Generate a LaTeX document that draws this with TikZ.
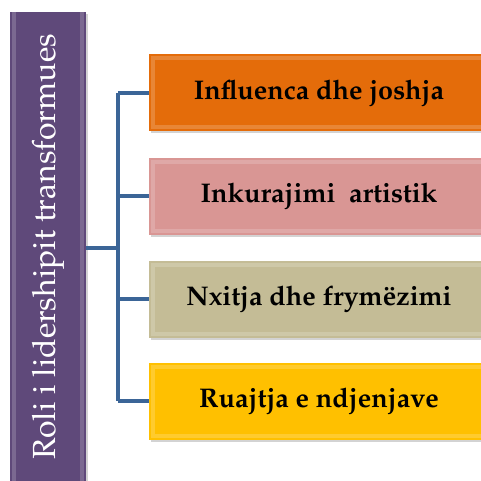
\documentclass[tikz,border=0pt]{standalone}
\usepackage[T1]{fontenc}
\usepackage{mathpazo}
\usetikzlibrary{shadows}
\definecolor{rolepurple}{HTML}{5F497A}
\definecolor{linkblue}{HTML}{3B6597}
\definecolor{boxorange}{HTML}{E46C0A}
\definecolor{boxpink}{HTML}{D99694}
\definecolor{boxkhaki}{HTML}{C4BC96}
\definecolor{boxgold}{HTML}{FFC000}
\begin{document}
\begin{tikzpicture}[x=1pt,y=1pt,
  bevel/.style={draw=none, drop shadow={shadow xshift=2pt, shadow yshift=-2pt, opacity=.35},
    path picture={\draw[white, opacity=.18, line width=4pt]
      ([shift={(4pt,-4pt)}]path picture bounding box.north west) rectangle
      ([shift={(-4pt,4pt)}]path picture bounding box.south east);}},
  item/.style={bevel, fill=#1, minimum width=340pt, minimum height=77pt,
    font=\fontsize{27}{30}\selectfont\bfseries},
  link/.style={draw=linkblue, line width=3.5pt}]
\useasboundingbox (0,0) rectangle (481,480);

% main role
\node[bevel, fill=rolepurple, rotate=90, minimum width=476pt, minimum height=76pt] (role) at (48,230) {};
\node[rotate=90, text=white, font=\fontsize{32}{36}\selectfont] (roletext) at (role.center |- 0,233) {Roli i lidershipit transformues};

% the four roles
\node[item=boxorange] (inf) at (319,387) {Influenca dhe joshja};
\node[item=boxpink] (ink) at (319,284) {Inkurajimi\ \ artistik};
\node[item=boxkhaki] (nxi) at (319,181) {Nxitja dhe frym\"ezimi};
\node[item=boxgold] (rua) at (319,79) {Ruajtja e ndjenjave};

% connectors
\coordinate (trunk) at (118,0);
\draw[link] (role.south |- 0,232) -- (trunk |- 0,232);
\draw[link] (trunk |- inf.west) -- (trunk |- rua.west);
\foreach \n in {inf,ink,nxi,rua}
  \draw[link] (trunk |- \n.west) -- (\n.west);
\end{tikzpicture}
\end{document}
